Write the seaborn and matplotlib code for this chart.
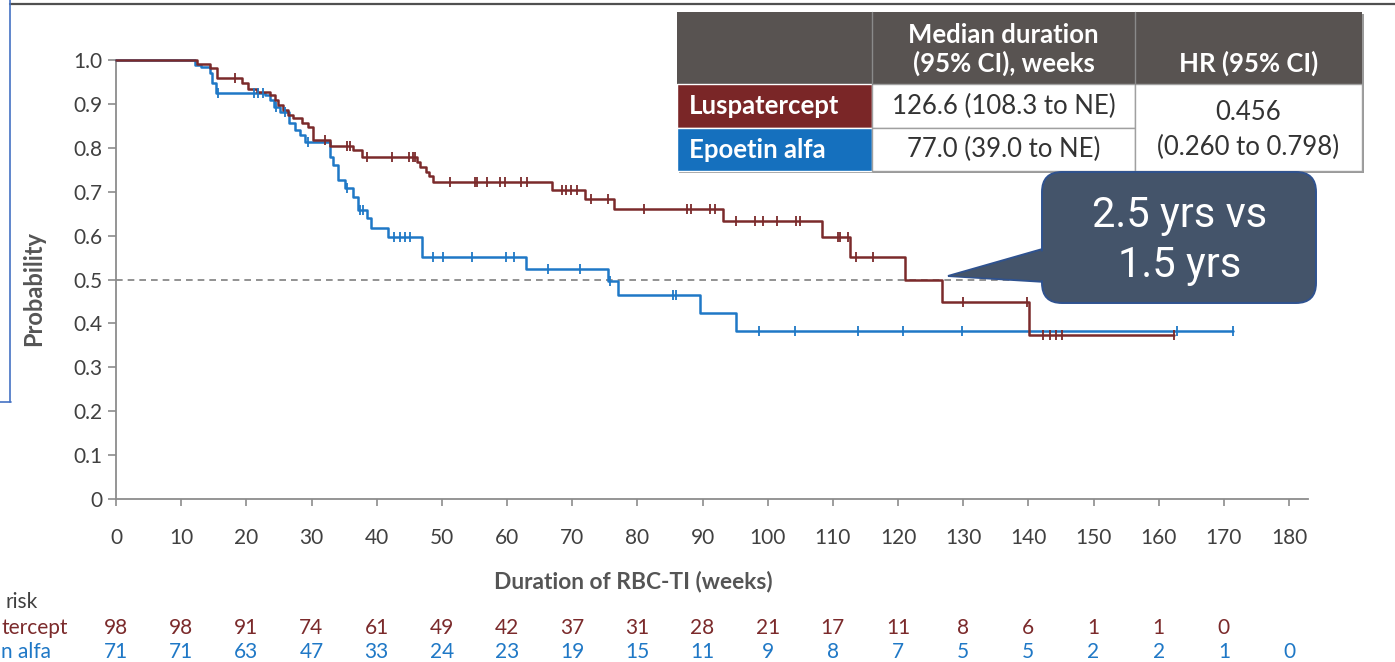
import numpy as np
import pandas as pd
import matplotlib
matplotlib.use("Agg")
import matplotlib.pyplot as plt
import matplotlib.transforms as mtransforms
from matplotlib.patches import FancyBboxPatch, Polygon, Rectangle
import seaborn as sns

# Kaplan-Meier steps: (week of drop, probability after drop)
lusp_time = [0, 12.4, 14.4, 15.5, 19.3, 20.3, 21.6, 23.6, 24.4, 24.9, 25.7, 26.4,
             27.2, 28.6, 29.5, 30.3, 32.8, 36.4, 37.7, 46.2, 46.7, 47.5, 48.1,
             48.6, 66.9, 72.0, 76.4, 93.1, 108.3, 112.7, 121.1, 126.7, 140.1]
lusp_surv = [1.0, 0.99, 0.982, 0.958, 0.947, 0.935, 0.928, 0.92, 0.909, 0.897,
             0.886, 0.875, 0.867, 0.856, 0.848, 0.818, 0.804, 0.795, 0.778, 0.768,
             0.757, 0.746, 0.735, 0.721, 0.704, 0.683, 0.66, 0.634, 0.597, 0.552,
             0.5, 0.449, 0.373]
lusp_censor = [18.3, 32.1, 35.4, 35.9, 38.5, 42.3, 44.9, 45.6, 45.9, 51.2, 55.1,
               55.4, 57.0, 58.9, 59.7, 62.2, 63.0, 68.4, 69.1, 69.8, 70.7, 72.9,
               75.5, 81.0, 87.6, 88.3, 91.1, 91.9, 95.2, 98.1, 99.3, 101.4, 104.3,
               105.0, 110.8, 111.1, 112.4, 113.6, 116.1, 129.9, 139.8, 142.3,
               143.3, 144.2, 145.1, 162.3]
lusp_end = 162.3

epo_time = [0, 12.1, 13.0, 14.4, 14.7, 15.4, 22.9, 23.6, 24.3, 25.2, 26.6, 27.5,
            28.2, 29.0, 32.8, 33.3, 34.1, 35.1, 36.4, 37.2, 38.5, 39.2, 41.8,
            46.9, 62.9, 75.5, 77.1, 89.6, 95.2]
epo_surv = [1.0, 0.989, 0.985, 0.97, 0.947, 0.925, 0.92, 0.909, 0.894, 0.882,
            0.856, 0.84, 0.829, 0.814, 0.78, 0.761, 0.727, 0.708, 0.689, 0.658,
            0.639, 0.617, 0.597, 0.552, 0.525, 0.497, 0.465, 0.423, 0.383]
epo_censor = [15.7, 21.1, 21.8, 22.6, 24.5, 25.9, 29.5, 35.4, 37.4, 37.9, 42.6,
              43.6, 44.3, 45.1, 48.7, 50.2, 54.7, 59.9, 61.0, 66.3, 71.2, 75.8,
              85.4, 86.0, 98.6, 104.2, 113.8, 120.8, 129.8, 162.8, 171.4]
epo_end = 171.4

risk_weeks = list(range(0, 190, 10))
lusp_risk = [98, 98, 91, 74, 61, 49, 42, 37, 31, 28, 21, 17, 11, 8, 6, 1, 1, 0]
epo_risk = [71, 71, 63, 47, 33, 24, 23, 19, 15, 11, 9, 8, 7, 5, 5, 2, 2, 1, 0]
# the risk-table row labels are cropped in the source; only these parts show
risk_labels = ["risk", "tercept", "n alfa"]

arm_names = ["Luspatercept", "Epoetin alfa"]
median_text = ["126.6 (108.3 to NE)", "77.0 (39.0 to NE)"]
hr_text = ["0.456", "(0.260 to 0.798)"]
callout_lines = ["2.5 yrs vs", "1.5 yrs"]

RED = "#7b2a2b"
BLUE = "#1f78c6"
W, H = 1395, 662

sns.set_theme(style="white")
plt.rcParams["font.family"] = ["Lato", "DejaVu Sans"]

fig = plt.figure(figsize=(W / 100, H / 100), dpi=100)

# main KM axes, placed in pixels
px_per_week = (1289 - 116) / 180
ax = fig.add_axes([116 / W, 1 - 499 / H, (1308 - 116) / W, 439 / H])


def surv_at(times, survs, t):
    idx = np.searchsorted(times, t, side="right") - 1
    return np.asarray(survs)[idx]


arms = [
    (epo_time, epo_surv, epo_censor, epo_end, BLUE),
    (lusp_time, lusp_surv, lusp_censor, lusp_end, RED),
]
for times, survs, cens, end, col in arms:
    curve = pd.DataFrame({"week": times + [end], "prob": survs + [survs[-1]]})
    sns.lineplot(data=curve, x="week", y="prob", color=col, lw=1.8,
                 drawstyle="steps-post", estimator=None, ax=ax,
                 clip_on=False, zorder=3)
    sns.scatterplot(x=cens, y=surv_at(times, survs, cens), marker="|", s=55,
                    linewidth=1.3, color=col, ax=ax, zorder=4, clip_on=False)

ax.hlines(0.5, 0, 140, colors="#7f7f7f", linestyles=(0, (4, 3)), lw=1.2, zorder=2)

ax.set_xlim(0, (1308 - 116) / px_per_week)
ax.set_ylim(0, 1)
ax.set_xticks(range(0, 181, 10))
ax.set_yticks(np.arange(0, 1.01, 0.1))
ax.set_yticklabels(["0"] + [f"{v:.1f}" for v in np.arange(0.1, 1.01, 0.1)])
ax.set_xlabel("")
ax.set_ylabel("")
for s in ["top", "right"]:
    ax.spines[s].set_visible(False)
for s in ["left", "bottom"]:
    ax.spines[s].set_color("#8c8c8c")
    ax.spines[s].set_linewidth(1.3)
ax.tick_params(axis="both", direction="out", color="#8c8c8c", width=1.2,
               labelcolor="#404040", labelsize=15)
ax.tick_params(axis="x", length=5, pad=16, bottom=True)
ax.tick_params(axis="y", length=6, pad=4, left=True)

# overlay in pixel coordinates for annotations
ov = fig.add_axes([0, 0, 1, 1])
ov.set_xlim(0, W)
ov.set_ylim(H, 0)
ov.axis("off")

ov.text(633, 582, "Duration of RBC-TI (weeks)", ha="center", va="center",
        fontsize=16.4, fontweight="bold", color="#555555")
ov.text(34, 288, "Probability", ha="center", va="center", rotation=90,
        fontsize=17, fontweight="bold", color="#555555")

# number at risk
risk_tr = mtransforms.blended_transform_factory(ax.transData, ov.transData)
ov.text(38, 602, risk_labels[0], ha="right", va="center", fontsize=15,
        color="#404040")
ov.text(1, 628, risk_labels[1], ha="left", va="center", fontsize=15, color=RED)
ov.text(1, 652, risk_labels[2], ha="left", va="center", fontsize=15, color=BLUE)
for wk, n in zip(risk_weeks, lusp_risk):
    ov.text(wk, 628, str(n), transform=risk_tr, ha="center", va="center",
            fontsize=15, color=RED)
for wk, n in zip(risk_weeks, epo_risk):
    ov.text(wk, 652, str(n), transform=risk_tr, ha="center", va="center",
            fontsize=15, color=BLUE)

# frame remnants at top/left
ov.plot([10, W], [4, 4], color="#505050", lw=1.6)
ov.plot([10, 10], [0, 402], color="#4472c4", lw=1.2)
ov.plot([0, 11], [402, 402], color="#4472c4", lw=1.2)

# summary table
HEAD = "#585351"
GRID = "#a0a0a0"
tx0, tx1, tx2, tx3 = 677, 872, 1135, 1362
ty0, ty1, ty2, ty3 = 12, 84, 128, 171
ov.add_patch(Rectangle((tx0 + 2, ty0 + 2), tx3 - tx0, ty3 - ty0, fc="#9a9a9a", ec="none"))
ov.add_patch(Rectangle((tx0, ty0), tx3 - tx0, ty1 - ty0, fc=HEAD, ec="none"))
ov.add_patch(Rectangle((tx0, ty1), tx1 - tx0, ty2 - ty1, fc="#7a2627", ec="white", lw=1))
ov.add_patch(Rectangle((tx0, ty2), tx1 - tx0, ty3 - ty2, fc="#1570be", ec="white", lw=1))
ov.add_patch(Rectangle((tx1, ty1), tx2 - tx1, ty2 - ty1, fc="white", ec=GRID, lw=1))
ov.add_patch(Rectangle((tx1, ty2), tx2 - tx1, ty3 - ty2, fc="white", ec=GRID, lw=1))
ov.add_patch(Rectangle((tx2, ty1), tx3 - tx2, ty3 - ty1, fc="white", ec=GRID, lw=1))
ov.plot([tx1, tx1], [ty0, ty1], color="#8a8a8a", lw=1)
ov.plot([tx2, tx2], [ty0, ty1], color="#8a8a8a", lw=1)

TFS = 18.5
ov.text((tx1 + tx2) / 2, 35, "Median duration", ha="center",
        va="center", fontsize=TFS, fontweight="bold", color="white")
ov.text((tx1 + tx2) / 2, 63, "(95% CI), weeks", ha="center",
        va="center", fontsize=TFS, fontweight="bold", color="white")
ov.text((tx2 + tx3) / 2, 63, "HR (95% CI)", ha="center", va="center",
        fontsize=TFS, fontweight="bold", color="white")
ov.text(689, (ty1 + ty2) / 2, arm_names[0], ha="left", va="center",
        fontsize=TFS, fontweight="bold", color="white")
ov.text(689, (ty2 + ty3) / 2, arm_names[1], ha="left", va="center",
        fontsize=TFS, fontweight="bold", color="white")
ov.text((tx1 + tx2) / 2, (ty1 + ty2) / 2, median_text[0], ha="center",
        va="center", fontsize=TFS, color="#333333")
ov.text((tx1 + tx2) / 2, (ty2 + ty3) / 2, median_text[1], ha="center",
        va="center", fontsize=TFS, color="#333333")
ov.text((tx2 + tx3) / 2, 113, hr_text[0], ha="center", va="center",
        fontsize=TFS, color="#333333")
ov.text((tx2 + tx3) / 2, 147, hr_text[1], ha="center", va="center",
        fontsize=TFS, color="#333333")

# callout
FILL = "#44546a"
EDGE = "#2f528f"
ov.add_patch(Polygon([(1046, 248), (948, 276), (1046, 282)], closed=True,
                     fc=FILL, ec=EDGE, lw=1.4, zorder=5))
ov.add_patch(FancyBboxPatch((1042, 172), 274, 131,
                            boxstyle="round,pad=0,rounding_size=20",
                            fc=FILL, ec=EDGE, lw=1.4, zorder=6))
ov.add_patch(Polygon([(1049, 249.5), (951, 276), (1049, 280.5)], closed=True,
                     fc=FILL, ec="none", zorder=7))
ov.text(1180, 216, callout_lines[0], ha="center", va="center", fontsize=30,
        color="white", family=["Roboto", "DejaVu Sans"], zorder=8)
ov.text(1180, 266, callout_lines[1], ha="center", va="center", fontsize=30,
        color="white", family=["Roboto", "DejaVu Sans"], zorder=8)

fig.savefig("out.png", dpi=100)
